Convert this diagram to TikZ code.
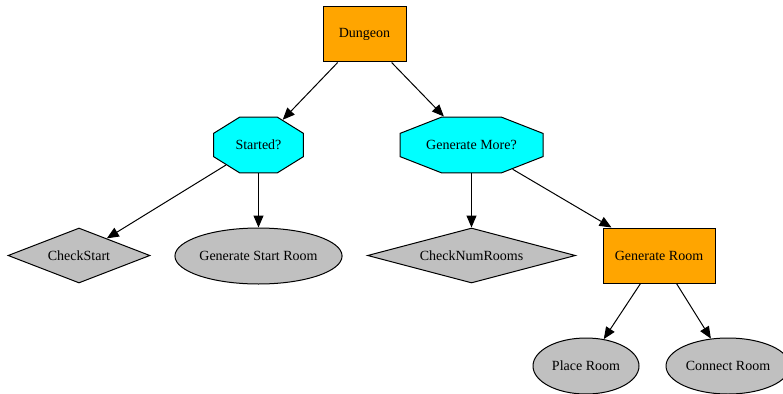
\documentclass[tikz,border=0pt]{standalone}
\usepackage{fontspec}
\setmainfont{Liberation Serif}
\usetikzlibrary{shapes.geometric,arrows.meta}
\definecolor{gvorange}{HTML}{FFA500}
\definecolor{gvcyan}{HTML}{00FFFF}
\definecolor{gvgray}{HTML}{C0C0C0}
\tikzset{
  base/.style={inner sep=0pt, font=\rmfamily\fontsize{14}{16}\selectfont, line width=1pt},
  box/.style={base, rectangle, draw, fill=gvorange, minimum height=55pt},
  octo/.style={base, regular polygon, regular polygon sides=8, draw, fill=gvcyan, minimum size=60.6pt, transform shape},
  label/.style={base},
  dia/.style={base, diamond, draw, fill=gvgray, minimum height=55pt},
  oval/.style={base, ellipse, draw, fill=gvgray, minimum height=56pt},
  link/.style={line width=1pt, -{Triangle[length=12pt,width=10pt]}}
}
\begin{document}
\begin{tikzpicture}[x=1pt, y=-1pt]
\useasboundingbox (0,0) rectangle (783,393);
\node[box, minimum width=83pt] (dungeon) at (364.5,34.5) {Dungeon};
\begin{scope}[shift={(258.5,145)}, xscale=1.607]
  \node[octo] (started) at (0,0) {};
\end{scope}
\node[label] (startedtxt) at (started.center) {Started?};
\begin{scope}[shift={(471.5,145)}, xscale=2.554]
  \node[octo] (genmore) at (0,0) {};
\end{scope}
\node[label] (genmoretxt) at (genmore.center) {Generate More?};
\node[dia, minimum width=142pt, shape aspect=2.58] (checkstart) at (79,255.5) {CheckStart};
\node[oval, minimum width=164pt] (gsr) at (258.5,256) {Generate Start Room};
\node[dia, minimum width=208pt, shape aspect=3.78] (checknum) at (471.5,255.5) {CheckNumRooms};
\node[box, minimum width=112pt] (genroom) at (659,255.5) {Generate Room};
\node[oval, minimum width=106pt] (place) at (586,366) {Place Room};
\node[oval, minimum width=124pt] (connect) at (728,366) {Connect Room};

\draw[link] (dungeon) -- (started);
\draw[link] (dungeon) -- (genmore);
\draw[link] (started) -- (checkstart);
\draw[link] (started) -- (gsr);
\draw[link] (genmore) -- (checknum);
\draw[link] (genmore) -- (genroom);
\draw[link] (genroom) -- (place);
\draw[link] (genroom) -- (connect);
\end{tikzpicture}
\end{document}
